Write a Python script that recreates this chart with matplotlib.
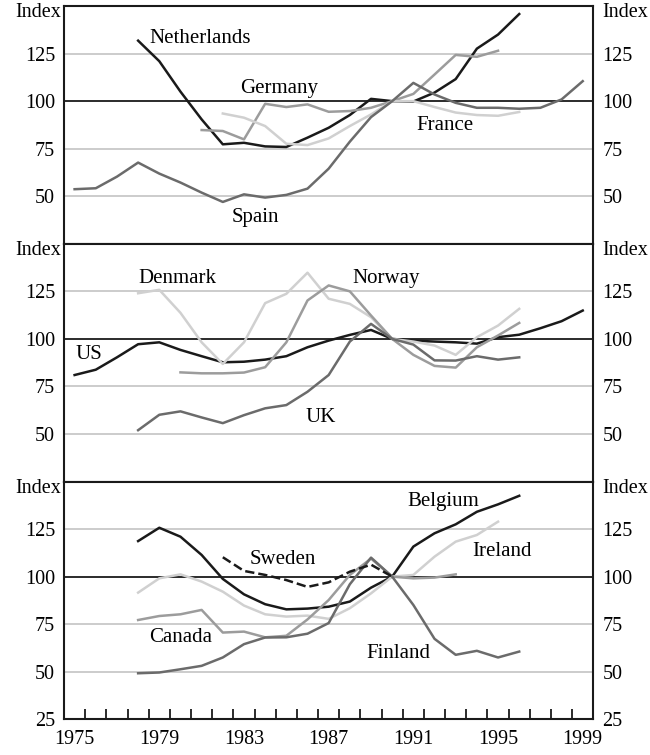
import matplotlib.pyplot as plt
import matplotlib.transforms as mtransforms
import numpy as np

plt.rcParams['font.family'] = ['Liberation Serif', 'DejaVu Serif']

# index, 1990 = 100; first year of each series given separately
netherlands_start = 1978
netherlands = [131.8, 121, 105, 90.4, 77.3, 78.1, 76.2, 75.9, 80.8, 86, 92.7, 101.2, 100,
               99.8, 104.5, 111.6, 127.6, 135, 145.8]
germany_start = 1981
germany = [84.8, 84.3, 79.9, 98.6, 96.9, 98.3, 94.4, 94.8, 96.5, 100, 103.8, 114, 124.3, 123.3, 126.5]
france_start = 1982
france = [93.5, 91.3, 86.9, 77.6, 76.9, 80.4, 86.9, 93, 100, 100, 96.9, 94, 92.7, 92.3, 94.3]
spain_start = 1975
spain = [53.7, 54.2, 60.3, 67.7, 61.9, 57.2, 51.9, 47, 51, 49.3, 50.7, 54, 64.5, 78.7, 91.6, 100,
         109.6, 103.5, 99.1, 96.5, 96.5, 96, 96.5, 100.9, 110.5]

us_start = 1975
us = [81, 83.8, 90.3, 97.2, 98.2, 94.2, 90.9, 87.7, 88, 89.1, 90.9, 95.6, 99.1, 102.1, 104.7, 100,
      99.1, 98.6, 98.2, 97.5, 100.9, 102.2, 105.6, 109.3, 114.9]
denmark_start = 1978
denmark = [124, 125.8, 113.7, 98.2, 86.8, 98.2, 118.8, 123.7, 134.8, 121.1, 118.4, 111.4, 100,
           98.6, 96.5, 91.6, 100.9, 107, 115.8]
norway_start = 1980
norway = [82.4, 81.9, 81.9, 82.3, 85.1, 98.2, 120.2, 128.1, 125, 112.3, 100, 91.6, 85.8, 84.9,
          95.6, 101.8, 108.4]
uk_start = 1978
uk = [52, 60.1, 61.9, 58.7, 55.7, 59.9, 63.5, 65.2, 72.2, 81, 98.6, 107.9, 100, 97, 88.7, 88.6,
      90.9, 89.1, 90.3]

belgium_start = 1978
belgium = [118.7, 125.7, 121, 111.4, 98.8, 90.7, 85.5, 82.8, 83.2, 84.2, 86.9, 94.2, 100, 115.8,
           122.8, 127.5, 134.1, 138, 142.5]
sweden_start = 1982
sweden = [110.2, 103, 100.9, 98.2, 94.6, 97, 102.6, 106.3, 100]
ireland_start = 1978
ireland = [91.6, 99.1, 101.2, 97.4, 92.1, 84.8, 80.2, 79, 79.5, 77.8, 83.4, 91.2, 100, 100.9,
           110.5, 118.4, 121.9, 128.9]
canada_start = 1978
canada = [77.2, 79.3, 80.2, 82.5, 70.6, 71.1, 68.1, 68.9, 77.5, 87.7, 100.9, 109.5, 100, 99.1,
          99.5, 101.2]
finland_start = 1978
finland = [49.2, 49.6, 51.3, 53.1, 57.5, 64.5, 68, 68.1, 70, 75.6, 96, 110, 100, 85.1, 67.3,
           58.9, 61, 57.5, 60.6]

year_labels = ['1975', '1979', '1983', '1987', '1991', '1995', '1999']

BLACK = '#1a1a1a'
DARK = '#6b6b6b'
MID = '#9c9c9c'
LIGHT = '#d0d0d0'

panels = [
    [('Netherlands', netherlands_start, netherlands, BLACK, '-', 1979.05, 132.9),
     ('Germany', germany_start, germany, MID, '-', 1983.3, 106.6),
     ('France', france_start, france, LIGHT, '-', 1991.66, 87.4),
     ('Spain', spain_start, spain, DARK, '-', 1982.9, 38.8)],
    [('US', us_start, us, BLACK, '-', 1975.55, 91.6),
     ('Denmark', denmark_start, denmark, LIGHT, '-', 1978.5, 132),
     ('Norway', norway_start, norway, MID, '-', 1988.6, 132),
     ('UK', uk_start, uk, DARK, '-', 1986.4, 58.7)],
    [('Belgium', belgium_start, belgium, BLACK, '-', 1991.2, 139.7),
     ('Ireland', ireland_start, ireland, LIGHT, '-', 1994.3, 113.1),
     ('Canada', canada_start, canada, MID, '-', 1979.0, 68),
     ('Finland', finland_start, finland, DARK, '-', 1989.3, 59.7),
     ('Sweden', sweden_start, sweden, BLACK, '--', 1983.75, 108.8)],
]

fig = plt.figure(figsize=(6.5, 7.55), dpi=100)
axes = fig.subplots(3, 1, sharex=True)
fig.subplots_adjust(left=0.0985, right=0.9128, top=0.992, bottom=0.0473, hspace=0)

fs = 14.5
for i, ax in enumerate(axes):
    for v in [50, 75, 125]:
        ax.axhline(v, color='#c8c8c8', lw=1.3, zorder=1)
    ax.axhline(100, color=BLACK, lw=1.3, zorder=1)

    for name, start, vals, col, ls, lx, ly in panels[i]:
        x = np.arange(start, start + len(vals)) + 0.5
        ax.plot(x, vals, color=col, ls=ls, lw=1.8, zorder=3)
        ax.text(lx, ly, name, fontsize=15, ha='left', va='center', zorder=4)

    ax.set_xlim(1975, 2000)
    ax.set_ylim(25, 150)
    if i == 2:
        ax.set_yticks([25, 50, 75, 100, 125])
    else:
        ax.set_yticks([50, 75, 100, 125])
    ax.tick_params(axis='y', length=0, labelleft=True, labelright=True, pad=6.5, labelsize=fs)
    for s in ax.spines.values():
        s.set_linewidth(1.5)
        s.set_color(BLACK)

    tr = mtransforms.blended_transform_factory(ax.transAxes, ax.transData)
    ax.text(-0.006, 146.5, 'Index', transform=tr, ha='right', va='center', fontsize=fs)
    ax.text(1.017, 146.5, 'Index', transform=tr, ha='left', va='center', fontsize=fs)

ax = axes[2]
ax.set_xticks(np.arange(1975, 2000, 4) + 0.5)
ax.set_xticklabels(year_labels)
ax.set_xticks(np.arange(1976, 2000), minor=True)
ax.tick_params(axis='x', which='major', length=0, pad=8, labelsize=fs)
ax.tick_params(axis='x', which='minor', direction='in', length=7, width=1.3, color=BLACK)
for a in axes[:2]:
    a.tick_params(axis='x', which='both', length=0, labelbottom=False)

fig.savefig('out.png', dpi=100)
